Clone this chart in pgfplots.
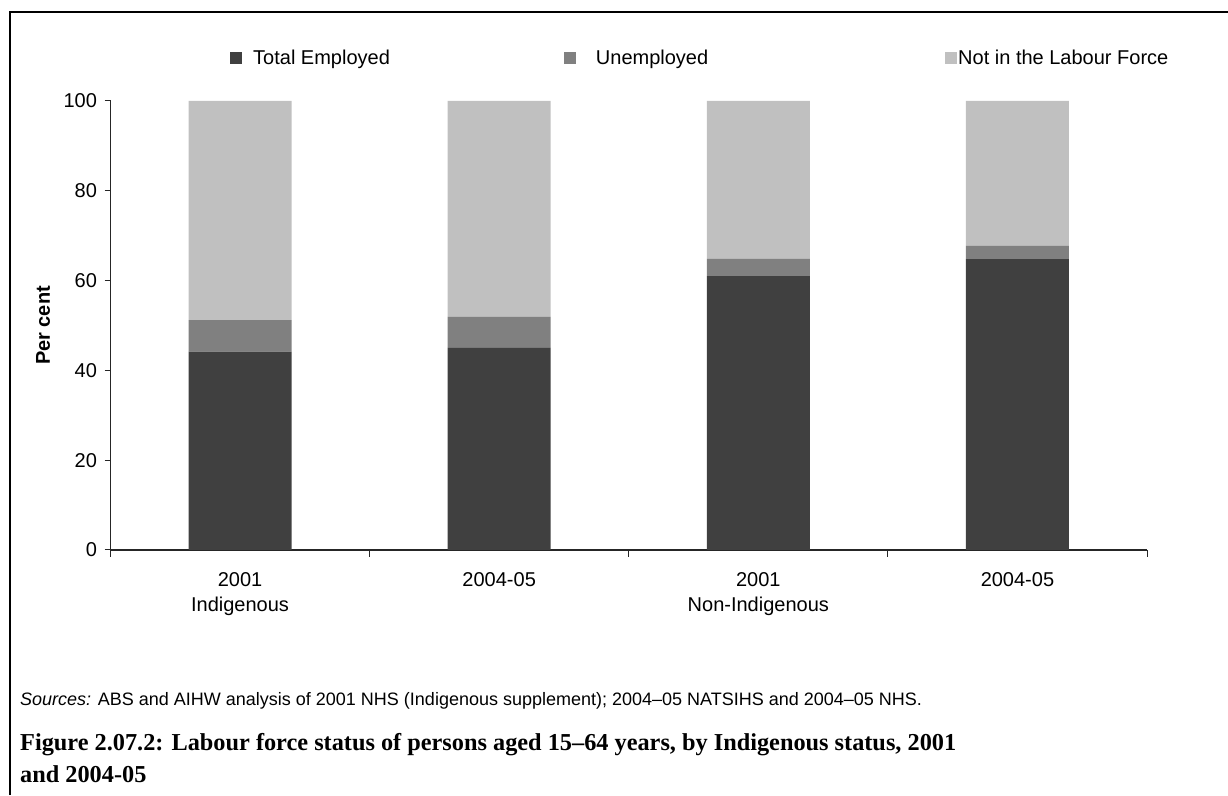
\documentclass[border=0pt]{standalone}
\usepackage{pgfplots}
\pgfplotsset{compat=1.18}
\usepackage{fontspec}
\setmainfont{Liberation Sans}
\newfontfamily\capfont{Liberation Serif}
\definecolor{cEmp}{HTML}{404040}
\definecolor{cUne}{HTML}{808080}
\definecolor{cNot}{HTML}{C0C0C0}
\begin{document}
\begin{tikzpicture}
\useasboundingbox (0pt,0pt) rectangle (1228pt,795pt);
\draw[line width=2.5pt] (10pt,0pt) -- (10pt,783pt) -- (1228pt,783pt);
\begin{axis}[
  at={(110.5pt,245pt)}, anchor=south west,
  scale only axis, width=1036.5pt, height=449pt,
  xmin=-0.5, xmax=3.5, ymin=0, ymax=100,
  ybar stacked, bar width=103pt,
  axis x line*=bottom, axis y line*=left,
  axis line style={-, line width=1.2pt, black!85},
  tick align=outside,
  major tick length=6pt, minor tick length=7pt,
  ytick={0,20,40,60,80,100},
  /pgf/number format/assume math mode=true,
  xtick={0,1,2,3},
  xticklabels={2001\\Indigenous, 2004-05, 2001\\Non-Indigenous, 2004-05},
  minor xtick={-0.5,0.5,1.5,2.5,3.5},
  major x tick style={draw=none},
  minor x tick style={black!85, line width=1pt},
  y tick style={black!85, line width=1pt},
  ticklabel style={font=\fontsize{20}{25}\selectfont},
  xticklabel style={align=center, yshift=-13pt},
  yticklabel style={xshift=-4pt},
  ylabel={Per cent},
  ylabel style={font=\fontsize{20}{24}\selectfont\bfseries, at={(axis description cs:-0.0651,0.5)}, anchor=center},
  legend columns=3,
  legend style={draw=none, fill=none, at={(axis description cs:0.1153,1.0958)}, anchor=west,
    font=\fontsize{20}{24}\selectfont, inner sep=0pt,
    nodes={inner sep=0pt},
    /tikz/every odd column/.append style={column sep=1pt},
    /tikz/every even column/.append style={column sep=174pt}},
]
\addplot[fill=cEmp, draw=none, legend image code/.code={\fill[cEmp] (0pt,-6pt) rectangle (12pt,6pt);}]
  coordinates {(0,44.2) (1,45.0) (2,61.0) (3,64.8)};
\addplot[fill=cUne, draw=none, legend image code/.code={\fill[cUne] (0pt,-6pt) rectangle (12pt,6pt);}]
  coordinates {(0,7.0) (1,6.9) (2,3.9) (3,3.0)};
\addplot[fill=cNot, draw=none, legend image code/.code={\fill[cNot] (0pt,-6pt) rectangle (12pt,6pt);}]
  coordinates {(0,48.8) (1,48.1) (2,35.1) (3,32.2)};
\legend{\hspace{10pt}Total Employed, \hspace{19pt}Unemployed\hspace*{63pt}\null, Not in the Labour Force}
\end{axis}
\node[anchor=base west, inner sep=0pt, font=\fontsize{18}{22}\selectfont] at (20pt,89pt)
  {\textit{Sources:} ABS and AIHW analysis of 2001 NHS (Indigenous supplement); 2004–05 NATSIHS and 2004–05 NHS.};
\node[anchor=base west, inner sep=0pt, font=\capfont\bfseries\fontsize{24.3}{32}\selectfont] at (20pt,45pt)
  {Figure 2.07.2: Labour force status of persons aged 15–64 years, by Indigenous status, 2001};
\node[anchor=base west, inner sep=0pt, font=\capfont\bfseries\fontsize{24.3}{32}\selectfont] at (20pt,13pt)
  {and 2004-05};
\end{tikzpicture}
\end{document}
